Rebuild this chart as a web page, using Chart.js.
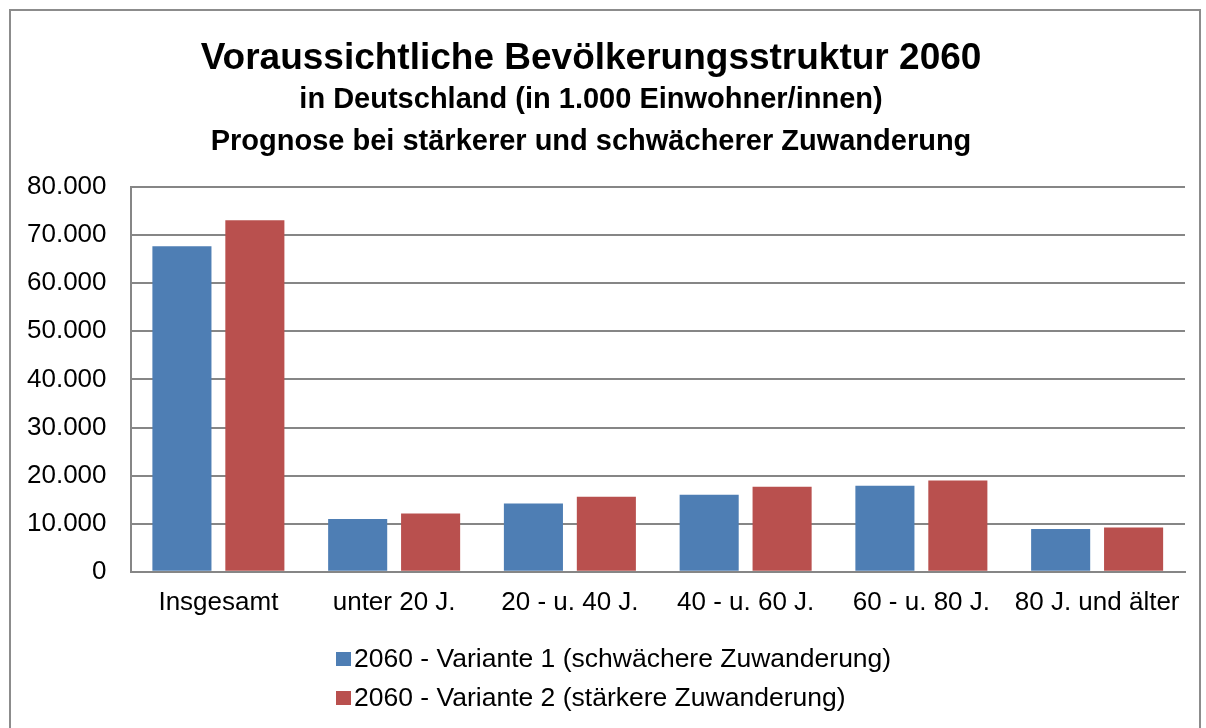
<!DOCTYPE html>
<html>
<head>
<meta charset="utf-8">
<script src="https://cdn.jsdelivr.net/npm/chart.js@4/dist/chart.umd.min.js"></script>
<style>
  body { margin: 0; background: #fff; }
  canvas { display: block; }
</style>
</head>
<body>
<canvas id="Chart1" width="1206" height="728"></canvas>
<script>
var titleLines = [
  "Voraussichtliche Bevölkerungsstruktur 2060",
  "in Deutschland (in 1.000 Einwohner/innen)",
  "Prognose bei stärkerer und schwächerer Zuwanderung"
];
var categories = ["Insgesamt", "unter 20 J.", "20 - u. 40 J.", "40 - u. 60 J.", "60 - u. 80 J.", "80 J. und älter"];
var seriesNames = [
  "2060 - Variante 1 (schwächere Zuwanderung)",
  "2060 - Variante 2 (stärkere Zuwanderung)"
];
var variante1 = [67700, 11000, 14200, 16000, 17900, 8900];
var variante2 = [73100, 12100, 15600, 17700, 19000, 9200];
var yTicks = [0, 10000, 20000, 30000, 40000, 50000, 60000, 70000, 80000];

var gray = "#868686";
var font = "'Liberation Sans', Arial, sans-serif";

function deNum(v) {
  return String(v).replace(/\B(?=(\d{3})+(?!\d))/g, ".");
}

// frame + titles + legend drawn around the chart
var extras = {
  id: 'extras',
  beforeDraw: function(chart) {
    var c = chart.ctx;
    c.save();
    c.fillStyle = "#fff";
    c.fillRect(0, 0, chart.width, chart.height);
    c.strokeStyle = "#8c8c8c";
    c.lineWidth = 2;
    c.strokeRect(10, 10, 1190, 740);
    c.restore();
  },
  afterDraw: function(chart) {
    var c = chart.ctx;
    c.save();
    c.fillStyle = "#000";
    c.textAlign = "center";
    c.textBaseline = "alphabetic";
    c.font = "bold 37px " + font;
    c.fillText(titleLines[0], 591, 69);
    c.font = "bold 29px " + font;
    c.fillText(titleLines[1], 591, 108);
    c.fillText(titleLines[2], 591, 150);

    c.textAlign = "left";
    c.textBaseline = "middle";
    c.font = "26.5px " + font;
    chart.data.datasets.forEach(function(ds, i) {
      var y = 659 + i * 39;
      c.fillStyle = ds.backgroundColor;
      c.fillRect(336, y - 7, 15, 14);
      c.fillStyle = "#000";
      c.fillText(ds.label, 354, y + 1);
    });
    c.restore();
  }
};

var ctx1 = document.getElementById("Chart1").getContext('2d');
var Chart1 = new Chart(ctx1, {
  type: 'bar',
  data: {
    labels: categories,
    datasets: [{
      label: seriesNames[0],
      backgroundColor: "#4e7eb4",
      data: variante1,
      barPercentage: 0.81,
      categoryPercentage: 0.83
    }, {
      label: seriesNames[1],
      backgroundColor: "#b9504e",
      data: variante2,
      barPercentage: 0.81,
      categoryPercentage: 0.83
    }]
  },
  options: {
    responsive: false,
    animation: false,
    layout: { padding: { top: 187, left: 3, right: 21, bottom: 95 } },
    plugins: {
      legend: { display: false },
      title: { display: false },
      tooltip: { enabled: false }
    },
    scales: {
      x: {
        grid: { display: false, drawTicks: false },
        border: { color: gray, width: 2 },
        ticks: { color: "#000", font: { family: font, size: 26 }, padding: 15, maxRotation: 0 }
      },
      y: {
        min: 0,
        max: 80000,
        afterBuildTicks: function(axis) {
          axis.ticks = yTicks.map(function(v) { return { value: v }; });
        },
        grid: { color: gray, lineWidth: 2, drawTicks: false },
        border: { color: gray, width: 2 },
        ticks: {
          color: "#000",
          font: { family: font, size: 26 },
          padding: 24,
          callback: function(v) { return deNum(v); }
        }
      }
    }
  },
  plugins: [extras]
});
</script>
</body>
</html>
